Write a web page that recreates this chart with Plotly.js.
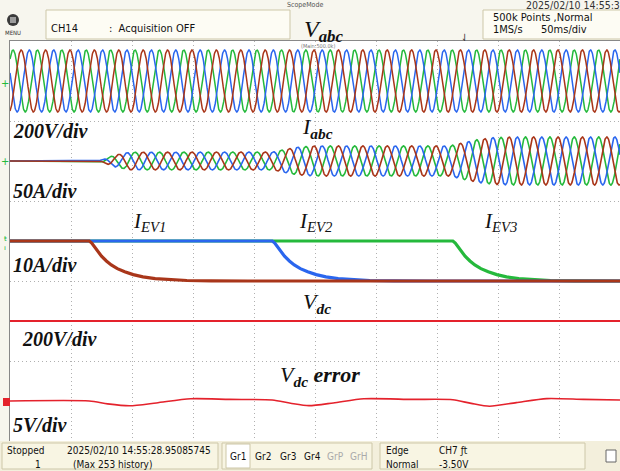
<!DOCTYPE html>
<html><head><meta charset="utf-8">
<script src="https://cdn.plot.ly/plotly-3.0.1.min.js"></script>
<style>html,body{margin:0;padding:0;background:#f7f6ee;}#chart{width:620px;height:471px;}</style>
</head><body><div id="chart"></div>
<script>
const TIME_RANGE_MS = [0, 500];          // 50 ms/div x 10 div
const GRID_FREQ_HZ = 50;
const SAMPLE_STEP_MS = 0.25;

// Vabc (200 V/div) : constant amplitude
const VABC_AMP_V = 77.5;
const VABC_PEAK_MS = 2.5;                // green phase peak
// Iabc (50 A/div) : amplitude envelope keypoints
const IABC_ENV_T = [0, 72, 85, 98, 215, 225, 235, 250, 360, 372, 384, 396, 410, 500];
const IABC_ENV_A = [0, 0, 3.5, 5.5, 5.6, 7.2, 8.6, 9.4, 9.4, 11.5, 13.5, 14.6, 15, 15];
// EV currents (10 A/div): switching instants and the read shape of the decay
const IEV_START_MS = [65, 215, 363];     // EV1, EV2, EV3
const IEV_DT_MS  = [0, 2, 4, 7, 10, 14, 18, 23, 29, 36, 44, 54, 66, 80, 100, 130];
const IEV_DROP_A = [0, -0.25, -0.65, -1.3, -1.9, -2.5, -3.0, -3.45, -3.85, -4.2, -4.48, -4.7, -4.85, -4.94, -4.98, -5];
// Vdc (200 V/div) deviation
const VDC_T = [0, 226, 232, 238, 384, 389, 394, 500];
const VDC_V = [0, 0, -1.2, 0, 0, -1, 0, 0];
// Vdc error (5 V/div)
const VERR_T = [0, 65, 80, 98, 120, 148, 180, 215, 230, 245, 265, 290, 330, 363, 378, 393, 415, 440, 470, 500];
const VERR_V = [0, 0, -0.18, -0.3, -0.12, 0.14, 0.1, 0.06, -0.14, -0.29, -0.12, 0.14, 0.1, 0.08, -0.15, -0.33, -0.1, 0.15, 0.1, 0.06];

// channel offsets (div from bottom) and scales (units/div)
const CH = {
  vabc: {off: 4.5, scale: 200},
  iabc: {off: 3.5, scale: 50},
  iev:  {off: 2.5, scale: 10},
  vdc:  {off: 1.5, scale: 200},
  verr: {off: 0.5, scale: 5}
};
const COL = {green: '#25b93c', blue: '#2a66ee', brown: '#a9361a', red: '#e4222c'};

// ---------- build traces ----------
function interp(ts, vs, t) {
  if (t <= ts[0]) return vs[0];
  for (let i = 1; i < ts.length; i++) {
    if (t <= ts[i]) { const f = (t - ts[i-1]) / (ts[i] - ts[i-1]); return vs[i-1] + f * (vs[i] - vs[i-1]); }
  }
  return vs[vs.length - 1];
}
const tt = [];
for (let t = TIME_RANGE_MS[0]; t <= TIME_RANGE_MS[1] + 1e-9; t += SAMPLE_STEP_MS) tt.push(t);
const w = 2 * Math.PI * GRID_FREQ_HZ / 1000;
const phases = [{c: COL.green, s: 0}, {c: COL.blue, s: 2}, {c: COL.brown, s: 1}]; // lag in thirds of a period
const traces = [];
phases.forEach(p => {
  const sh = p.s * 2 * Math.PI / 3;
  traces.push({x: tt, y: tt.map(t => CH.vabc.off + VABC_AMP_V * Math.cos(w * (t - VABC_PEAK_MS) - sh) / CH.vabc.scale),
    mode: 'lines', line: {color: p.c, width: 1.5}, hoverinfo: 'skip'});
});
phases.forEach(p => {
  const sh = p.s * 2 * Math.PI / 3;
  traces.push({x: tt, y: tt.map(t => CH.iabc.off + interp(IABC_ENV_T, IABC_ENV_A, t) * Math.cos(w * (t - VABC_PEAK_MS) - sh) / CH.iabc.scale),
    mode: 'lines', line: {color: p.c, width: 1.6}, hoverinfo: 'skip'});
});
[[2, COL.green], [1, COL.blue], [0, COL.brown]].forEach(([k, c]) => {
  const s = IEV_START_MS[k];
  const xs = [TIME_RANGE_MS[0]].concat(IEV_DT_MS.map(d => s + d), [TIME_RANGE_MS[1]]).filter(x => x <= TIME_RANGE_MS[1]);
  const vs = [0].concat(IEV_DROP_A, [IEV_DROP_A[IEV_DROP_A.length - 1]]).slice(0, xs.length);
  traces.push({x: xs, y: vs.map(v => CH.iev.off + v / CH.iev.scale), mode: 'lines',
    line: {color: c, width: 3.2}, hoverinfo: 'skip'});
});
traces.push({x: VDC_T, y: VDC_V.map(v => CH.vdc.off + v / CH.vdc.scale), mode: 'lines',
  line: {color: COL.red, width: 2}, hoverinfo: 'skip'});
traces.push({x: VERR_T, y: VERR_V.map(v => CH.verr.off + v / CH.verr.scale), mode: 'lines',
  line: {color: COL.red, width: 1.6, shape: 'spline', smoothing: 0.7}, hoverinfo: 'skip'});

// ---------- decorations (pixel -> paper) ----------
const PX = X => (X - 10) / 610;
const PY = Y => (441 - Y) / 400;
const SERIF = 'Liberation Serif, Times New Roman, serif';
const NARROW = 'Liberation Sans Narrow, DejaVu Sans Condensed, Arial Narrow, sans-serif';
function ann(text, X, Y, size, family, color, xanchor) {
  return {text: text, x: PX(X), y: PY(Y), xref: 'paper', yref: 'paper', xanchor: xanchor || 'left', yanchor: 'middle',
    showarrow: false, font: {family: family || SERIF, size: size, color: color || '#111'}, borderpad: 0};
}
function rect(x0, y0, x1, y1, fill, line, lw) {
  return {type: 'rect', xref: 'paper', yref: 'paper', x0: PX(x0), x1: PX(x1), y0: PY(y0), y1: PY(y1),
    fillcolor: fill, line: {color: line || 'rgba(0,0,0,0)', width: lw === undefined ? 1 : lw}, layer: 'above'};
}
const annotations = [
  // channel labels
  ann('<i>V</i><sub><b><i>abc</i></b></sub>', 303, 31, 24),
  ann('<i>I</i><sub><b><i>abc</i></b></sub>', 301, 128, 22),
  ann('<i>I</i><sub><i>EV1</i></sub>', 132, 222, 21),
  ann('<i>I</i><sub><i>EV2</i></sub>', 298, 222, 21),
  ann('<i>I</i><sub><i>EV3</i></sub>', 483, 222, 21),
  ann('<i>V</i><sub><b><i>dc</i></b></sub>', 302, 303, 22),
  ann('<i>V</i><sub><b><i>dc</i></b></sub><b><i> error</i></b>', 279, 376, 22),
  // scales
  ann('<b><i>200V/div</i></b>', 12, 131, 20),
  ann('<b><i>50A/div</i></b>', 12, 191, 20),
  ann('<b><i>10A/div</i></b>', 12, 265, 20),
  ann('<b><i>200V/div</i></b>', 21, 339, 20),
  ann('<b><i>5V/div</i></b>', 12, 425, 20),
  // header
  ann('ScopeMode', 305, 5, 7, NARROW, '#555', 'center'),
  ann('2025/02/10 14:55:33', 525, 5, 10.5, NARROW, '#333'),
  ann('MENU', 13, 32, 6, NARROW, '#333', 'center'),
  ann('CH14', 50, 28, 11, NARROW, '#111'),
  ann(':  Acquisition OFF', 108, 28, 11, NARROW, '#111'),
  ann('500k Points ,Normal', 492, 18, 11, NARROW, '#111'),
  ann('1MS/s', 492, 30, 11, NARROW, '#111'),
  ann('50ms/div', 540, 30, 11, NARROW, '#111'),
  ann('(Main:500.0k)', 318, 46, 5.5, NARROW, '#777', 'center'),
  ann('⇃', 465, 37, 10, NARROW, '#333', 'center'),
  // footer
  ann('Stopped', 6, 450, 10, NARROW, '#111'),
  ann('1', 34, 464, 10, NARROW, '#111'),
  ann('2025/02/10 14:55:28.95085745', 66, 450, 10, NARROW, '#111'),
  ann('(Max 253 history)', 72, 464, 10, NARROW, '#111'),
  ann('Gr1', 238, 456, 10, NARROW, '#111', 'center'),
  ann('Gr2', 263, 456, 10, NARROW, '#111', 'center'),
  ann('Gr3', 288, 456, 10, NARROW, '#111', 'center'),
  ann('Gr4', 312, 456, 10, NARROW, '#111', 'center'),
  ann('GrP', 335, 456, 10, NARROW, '#aaa', 'center'),
  ann('GrH', 358, 456, 10, NARROW, '#aaa', 'center'),
  ann('Edge', 385, 450, 10, NARROW, '#111'),
  ann('CH7 ƒt', 438, 450, 10, NARROW, '#111'),
  ann('Normal', 385, 464, 10, NARROW, '#111'),
  ann('-3.50V', 438, 464, 10, NARROW, '#111'),
  // left channel markers
  ann('+', 5, 83, 10, 'DejaVu Sans', COL.green, 'center'),
  ann('+', 5, 161, 10, 'DejaVu Sans', COL.green, 'center'),
  ann('ŧ', 5, 239, 7, 'DejaVu Sans', COL.green, 'center'),
  ann('ı', 5, 248, 7, 'DejaVu Sans', COL.green, 'center')
];
const shapes = [
  rect(0, 441, 620, 471, '#f3efdc', null, 0),
  rect(2, 443, 218, 469, '#f8f5e3', '#cdc7a8', 1),
  rect(222, 443, 372, 469, '#f8f5e3', '#cdc7a8', 1),
  rect(226, 444, 250, 468, '#ffffff', '#cdc7a8', 1),
  rect(380, 443, 585, 469, '#f8f5e3', '#cdc7a8', 1),
  rect(606, 450, 616, 462, '#ffffff', '#666', 1),
  rect(46, 10, 290, 39, '#fdfcf4', '#cdc7a8', 1),
  rect(483, 10, 625, 39, '#fdfcf4', '#cdc7a8', 1),
  {type: 'circle', xref: 'paper', yref: 'paper', x0: PX(7), x1: PX(19), y0: PY(26), y1: PY(14), fillcolor: '#3a3a3a', line: {width: 0}, layer: 'above'},
  rect(10, 17.5, 16, 18.5, '#fff', null, 0),
  rect(10, 19.5, 16, 20.5, '#fff', null, 0),
  rect(10, 21.5, 16, 22.5, '#fff', null, 0),
  rect(3, 398, 10, 406, '#e4222c', null, 0)
];

const layout = {
  width: 620, height: 471,
  margin: {l: 10, r: 0, t: 41, b: 30, pad: 0},
  paper_bgcolor: '#f7f6ee', plot_bgcolor: '#ffffff',
  showlegend: false,
  xaxis: {range: TIME_RANGE_MS, dtick: 50, tick0: 0, showgrid: true, gridcolor: '#b0b0b0', griddash: '1px,3px', gridwidth: 1,
    showticklabels: false, ticks: '', zeroline: false, showline: true, linecolor: '#888', linewidth: 1, mirror: true, fixedrange: true},
  yaxis: {range: [0, 5], dtick: 1, tick0: 0, showgrid: true, gridcolor: '#b0b0b0', griddash: '1px,3px', gridwidth: 1,
    showticklabels: false, ticks: '', zeroline: false, showline: true, linecolor: '#888', linewidth: 1, mirror: true, fixedrange: true},
  annotations: annotations,
  shapes: shapes
};
Plotly.newPlot('chart', traces.map(t => Object.assign({showlegend: false}, t)), layout, {staticPlot: true, displayModeBar: false});
</script></body></html>
